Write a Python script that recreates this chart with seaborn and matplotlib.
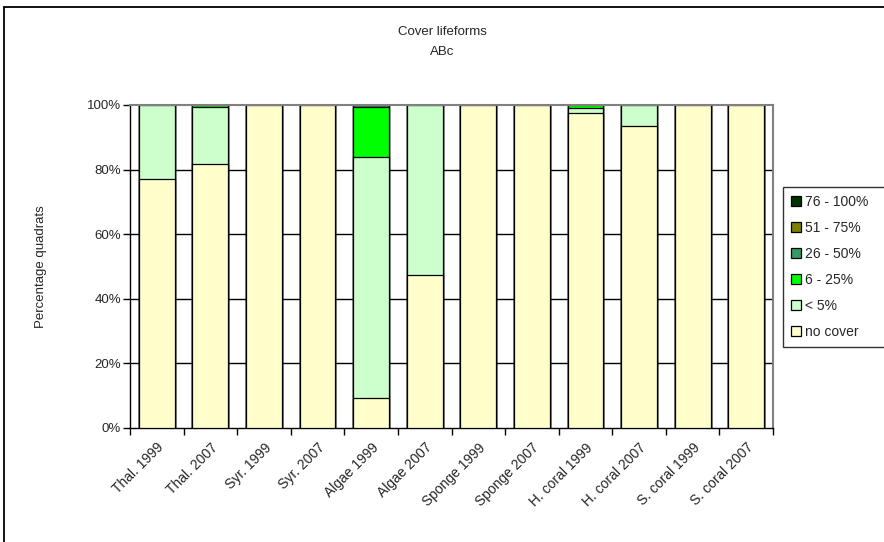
import numpy as np
import matplotlib
matplotlib.use("Agg")
import matplotlib.pyplot as plt
import seaborn as sns
from matplotlib.patches import Patch
from matplotlib.lines import Line2D
from matplotlib.ticker import FixedLocator, PercentFormatter

categories = ["Thal. 1999", "Thal. 2007", "Syr. 1999", "Syr. 2007",
              "Algae 1999", "Algae 2007", "Sponge 1999", "Sponge 2007",
              "H. coral 1999", "H. coral 2007", "S. coral 1999", "S. coral 2007"]

no_cover = [77.0, 81.7, 100, 100, 9.2, 47.5, 100, 100, 97.6, 93.5, 100, 100]
below_5 = [23.0, 17.6, 0, 0, 74.8, 52.5, 0, 0, 1.6, 6.5, 0, 0]
pct_6_25 = [0, 0.7, 0, 0, 15.3, 0, 0, 0, 0.8, 0, 0, 0]
pct_26_50 = [0, 0, 0, 0, 0.7, 0, 0, 0, 0, 0, 0, 0]
pct_51_75 = [0, 0, 0, 0, 0, 0, 0, 0, 0, 0, 0, 0]
pct_76_100 = [0, 0, 0, 0, 0, 0, 0, 0, 0, 0, 0, 0]

series_labels = ["no cover", "< 5%", "6 - 25%", "26 - 50%", "51 - 75%", "76 - 100%"]
series_colors = ["#FFFFCC", "#CCFFCC", "#00FF00", "#339966", "#808000", "#003300"]

sns.set_style("white")
plt.rcParams["font.family"] = ["Liberation Sans", "DejaVu Sans"]

fig = plt.figure(figsize=(8.84, 5.42), dpi=100)
ax = fig.add_axes([130 / 884, 1 - 428 / 542, 643 / 884, 323 / 542])

layers = [no_cover, below_5, pct_6_25, pct_26_50, pct_51_75, pct_76_100]
cumulative = np.cumsum(np.array(layers, dtype=float), axis=0)

# stacked bars: draw cumulative totals from the top segment down
for i in range(len(layers) - 1, -1, -1):
    sns.barplot(x=categories, y=cumulative[i], color=series_colors[i],
                saturation=1, width=0.67, edgecolor="black", linewidth=0.9,
                ax=ax, zorder=3)

ax.set_xlim(-0.5, len(categories) - 0.5)
ax.set_ylim(0, 100)
ax.yaxis.set_major_locator(FixedLocator([0, 20, 40, 60, 80, 100]))
ax.yaxis.set_major_formatter(PercentFormatter(decimals=0))

# horizontal gridlines behind bars
for yv in [20, 40, 60, 80]:
    ax.axhline(yv, color="black", lw=1.0, zorder=1)

ax.set_xticks(range(len(categories)))
ax.set_xticklabels(categories, rotation=45, ha="right", va="top",
                   rotation_mode="anchor", fontsize=10)
ax.xaxis.set_minor_locator(FixedLocator(np.arange(-0.5, len(categories), 1.0)))
ax.tick_params(axis="x", which="major", length=0, pad=9)
ax.tick_params(axis="x", which="minor", length=5, width=1, color="black",
               direction="out", bottom=True)
ax.tick_params(axis="y", which="major", length=5, width=1, color="black",
               direction="out", left=True, labelsize=9.5, pad=1.5)

for side in ["left", "bottom"]:
    ax.spines[side].set_color("black")
    ax.spines[side].set_linewidth(1.0)
for side in ["top", "right"]:
    ax.spines[side].set_color("#808080")
    ax.spines[side].set_linewidth(1.5)
ax.spines["top"].set_zorder(4)

ax.set_xlabel("")
ax.set_ylabel("Percentage quadrats", fontsize=9.5, labelpad=29)

fig.text(0.5, 1 - 32 / 542, "Cover lifeforms", ha="center", va="center", fontsize=9.5)
fig.text(0.5, 1 - 52 / 542, "ABc", ha="center", va="center", fontsize=9.5)

handles = [Patch(facecolor=series_colors[i], edgecolor="black", linewidth=0.9,
                 label=series_labels[i]) for i in range(len(layers) - 1, -1, -1)]
leg = fig.legend(handles=handles, loc="upper left", mode="expand",
                 bbox_to_anchor=(783 / 884, 1 - 346 / 542, 103 / 884, 159 / 542),
                 frameon=True, fontsize=10, handlelength=0.75, handleheight=0.75,
                 handletextpad=0.3, labelspacing=0.87, borderpad=0.55,
                 borderaxespad=0, fancybox=False)
leg.get_frame().set_edgecolor("black")
leg.get_frame().set_linewidth(1.0)

# outer chart frame (left and top edges)
fig.add_artist(Line2D([4 / 884, 4 / 884], [0, 1 - 7 / 542], transform=fig.transFigure,
                      color="black", lw=1.3))
fig.add_artist(Line2D([4 / 884, 1], [1 - 7 / 542, 1 - 7 / 542], transform=fig.transFigure,
                      color="black", lw=1.3))

fig.savefig("out.png", dpi=100)
